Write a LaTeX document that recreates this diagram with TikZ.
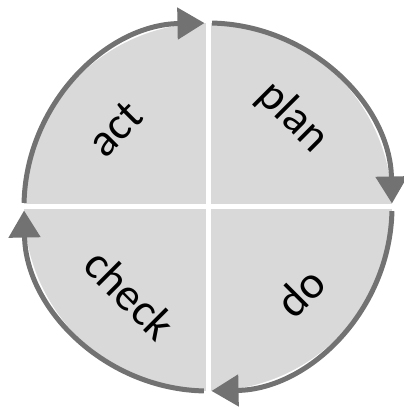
\documentclass[tikz,border=0pt]{standalone}
\usepackage{fontspec}
\setmainfont{Carlito}
\usetikzlibrary{arrows.meta}
\definecolor{quadfill}{HTML}{D9D9D9}
\definecolor{arcgray}{HTML}{727272}
\tikzset{
  cyclearc/.style={draw=arcgray, line width=5pt, -{Triangle[length=27pt,width=31pt]}},
  gapline/.style={draw=white, line width=5pt},
  label/.style={inner sep=0pt, font=\fontsize{46}{54}\selectfont}
}
\begin{document}
\begin{tikzpicture}[x=1pt,y=1pt]
  \useasboundingbox (0,0) rectangle (404,408);
  \coordinate (c) at (208,201);
  \def\R{184}
  % light gray disc
  \fill[quadfill] (c) circle (\R);
  % white separating gaps
  \draw[gapline] ([yshift=-\R-6]c) -- ([yshift=\R+6]c);
  \draw[gapline] ([xshift=-\R-6]c) -- ([xshift=\R+6]c);
  % arcs with arrowheads (clockwise)
  \draw[cyclearc] ([shift={(88.7:\R)}]c) arc[start angle=88.7, end angle=1.1, radius=\R];
  \draw[cyclearc] ([shift={(-1.3:\R)}]c) arc[start angle=-1.3, end angle=-88.9, radius=\R];
  \draw[cyclearc] ([shift={(268.7:\R)}]c) arc[start angle=268.7, end angle=181.1, radius=\R];
  \draw[cyclearc] ([shift={(178.7:\R)}]c) arc[start angle=178.7, end angle=91.1, radius=\R];
  % labels
  \node[label, rotate=45]  (act)   at (115,279) {act};
  \node[label, rotate=-45] (plan)  at (293,291) {plan};
  \node[label, rotate=45]  (do)    at (300,116) {do};
  \node[label, rotate=-45] (check) at (130,114) {check};
\end{tikzpicture}
\end{document}
